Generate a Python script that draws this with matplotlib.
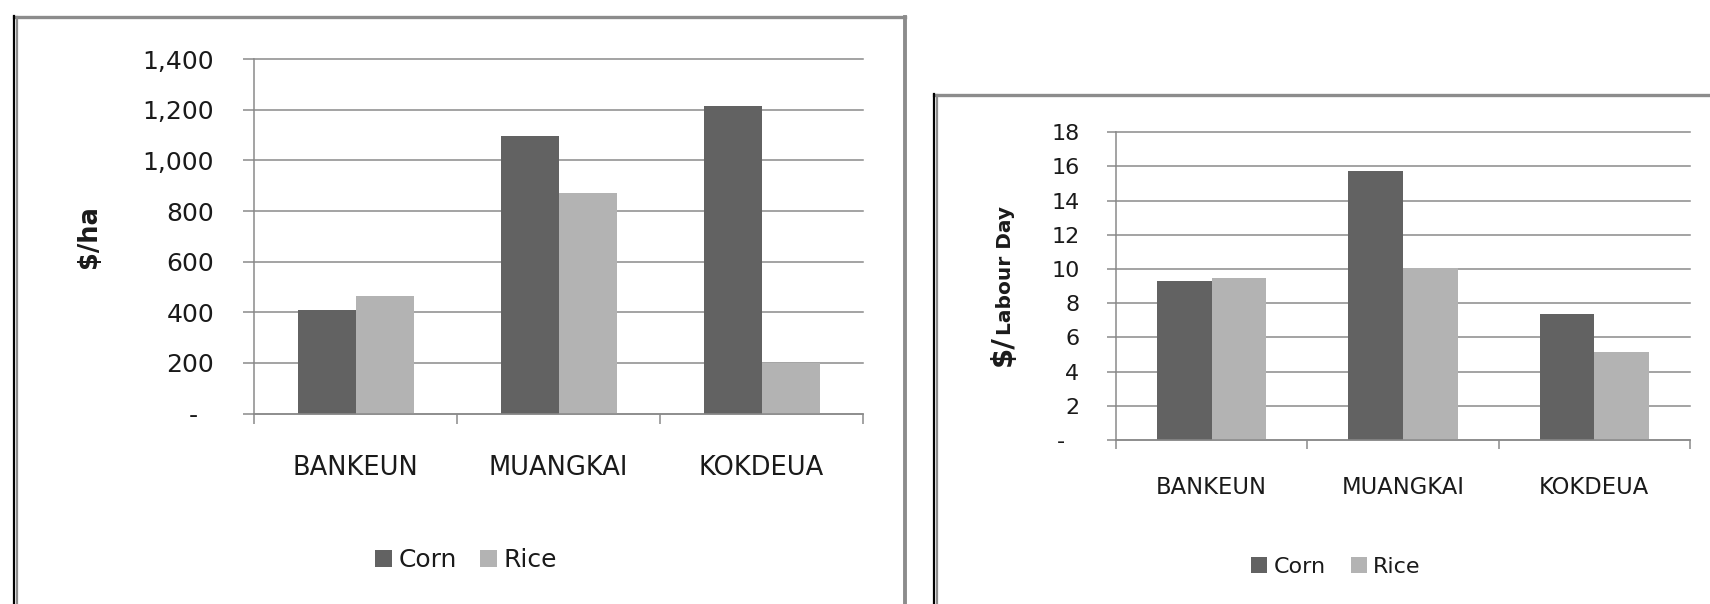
import matplotlib
matplotlib.use("Agg")
import matplotlib.pyplot as plt
import numpy as np
from matplotlib.lines import Line2D
from matplotlib.font_manager import FontProperties

# ---------------- data ----------------
categories = ["BANKEUN", "MUANGKAI", "KOKDEUA"]
series_names = ["Corn", "Rice"]
corn_ha = [408, 1097, 1217]
rice_ha = [463, 872, 201]
corn_day = [9.28, 15.73, 7.35]
rice_day = [9.47, 10.05, 5.13]
yticks_ha = [0, 200, 400, 600, 800, 1000, 1200, 1400]
ylabels_ha = ["-  ", "200", "400", "600", "800", "1,000", "1,200", "1,400"]
yticks_day = [0, 2, 4, 6, 8, 10, 12, 14, 16, 18]
ylabels_day = ["-  ", "2", "4", "6", "8", "10", "12", "14", "16", "18"]

# ---------------- style ----------------
W, H = 1710, 604
CORN = "#626262"
RICE = "#b3b3b3"
GRID = "#8a8a8a"
TXT = "#1a1a1a"
FRAME = "#8c8c8c"

fig = plt.figure(figsize=(W / 100, H / 100), dpi=100)
fig.patch.set_facecolor("white")


def fx(px):
    return px / W


def fy(py):
    return 1 - py / H


def style(ax, yt, yl, ymax, ytick_len, xtick_len, ysize, xsize, ypad, xpad):
    for s in ["top", "right"]:
        ax.spines[s].set_visible(False)
    for s in ["left", "bottom"]:
        ax.spines[s].set_color(GRID)
        ax.spines[s].set_linewidth(1.1)
    ax.set_ylim(0, ymax)
    ax.set_xlim(-0.5, 2.5)
    ax.set_yticks(yt)
    ax.set_yticklabels(yl)
    ax.yaxis.grid(True, color=GRID, linewidth=1.1)
    for gl in ax.get_ygridlines():
        gl.set_clip_on(False)
    ax.set_axisbelow(True)
    ax.tick_params(axis="y", direction="out", length=ytick_len, width=1.1,
                   color=GRID, labelsize=ysize, labelcolor=TXT, pad=ypad)
    x = np.arange(len(categories))
    ax.set_xticks(x)
    ax.set_xticklabels(categories)
    ax.set_xticks([-0.5, 0.5, 1.5, 2.5], minor=True)
    ax.tick_params(axis="x", which="major", length=0, labelsize=xsize,
                   labelcolor=TXT, pad=xpad)
    ax.tick_params(axis="x", which="minor", direction="out", length=xtick_len,
                   width=1.1, color=GRID)


def bars(ax, corn, rice):
    x = np.arange(len(categories))
    w = 1 / 3.5
    ax.bar(x - w / 2, corn, w, color=CORN, edgecolor="none", label=series_names[0])
    ax.bar(x + w / 2, rice, w, color=RICE, edgecolor="none", label=series_names[1])


# ---------------- frames ----------------
def frame(x0, y0, x1, y1, right=True):
    fig.add_artist(Line2D([fx(x0), fx(x1)], [fy(y0), fy(y0)], color=FRAME, lw=2.4,
                          transform=fig.transFigure))
    fig.add_artist(Line2D([fx(x0 + 2.5), fx(x0 + 2.5)], [fy(y0), fy(y1)], color=FRAME, lw=1.6,
                          transform=fig.transFigure))
    fig.add_artist(Line2D([fx(x0), fx(x0)], [fy(y0 - 1), fy(y1)], color="black", lw=1.6,
                          transform=fig.transFigure))
    if right:
        fig.add_artist(Line2D([fx(x1), fx(x1)], [fy(y0), fy(y1)], color=FRAME, lw=2.8,
                              transform=fig.transFigure))


frame(14, 16.8, 904.5, 610)
frame(934, 95, 1720, 610, right=False)

# ---------------- left chart ----------------
axL = fig.add_axes([fx(254), fy(413.5), (863 - 254) / W, (413.5 - 59.3) / H])
bars(axL, corn_ha, rice_ha)
style(axL, yticks_ha, ylabels_ha, 1400, 7.7, 7.2, 18, 18.5, 21, 30)
fig.text(fx(89), fy(236.5), "$/ha", rotation=90, ha="center", va="center",
         fontsize=18.5, fontweight="bold", color=TXT)
hL, lL = axL.get_legend_handles_labels()
fig.legend(hL, lL, loc="center", bbox_to_anchor=(fx(466), fy(560)), ncol=2,
           frameon=False, fontsize=18, handlelength=0.68, handleheight=0.68,
           handletextpad=0.25, columnspacing=0.95, borderpad=0, labelcolor=TXT)

# ---------------- right chart ----------------
axR = fig.add_axes([fx(1116), fy(440), (1690 - 1116) / W, (440 - 132.3) / H])
bars(axR, corn_day, rice_day)
style(axR, yticks_day, ylabels_day, 18, 6.3, 6.5, 16, 16.3, 20, 26)
hR, lR = axR.get_legend_handles_labels()
fig.legend(hR, lR, loc="center", bbox_to_anchor=(fx(1336), fy(567)), ncol=2,
           frameon=False, fontsize=16, handlelength=0.72, handleheight=0.72,
           handletextpad=0.3, columnspacing=1.1, borderpad=0, labelcolor=TXT)

# two-size rotated y label "$/Labour Day"
renderer = fig.canvas.get_renderer()
p_big = FontProperties(family="DejaVu Sans", weight="bold", size=21)
p_small = FontProperties(family="DejaVu Sans", weight="bold", size=14.5)
w_big = renderer.get_text_width_height_descent("$/", p_big, ismath=False)[0]
w_small = renderer.get_text_width_height_descent("Labour Day", p_small, ismath=False)[0]
total = w_big + w_small
center_y = (132.3 + 440) / 2
y_start = center_y + total / 2  # pixel from top (bottom of text)
base_x = 1011
fig.text(fx(base_x), fy(y_start), "$/", rotation=90, rotation_mode="anchor",
         ha="left", va="baseline", fontproperties=p_big, color=TXT)
fig.text(fx(base_x), fy(y_start - w_big), "Labour Day", rotation=90, rotation_mode="anchor",
         ha="left", va="baseline", fontproperties=p_small, color=TXT)

fig.savefig("out.png", dpi=100, facecolor="white")
